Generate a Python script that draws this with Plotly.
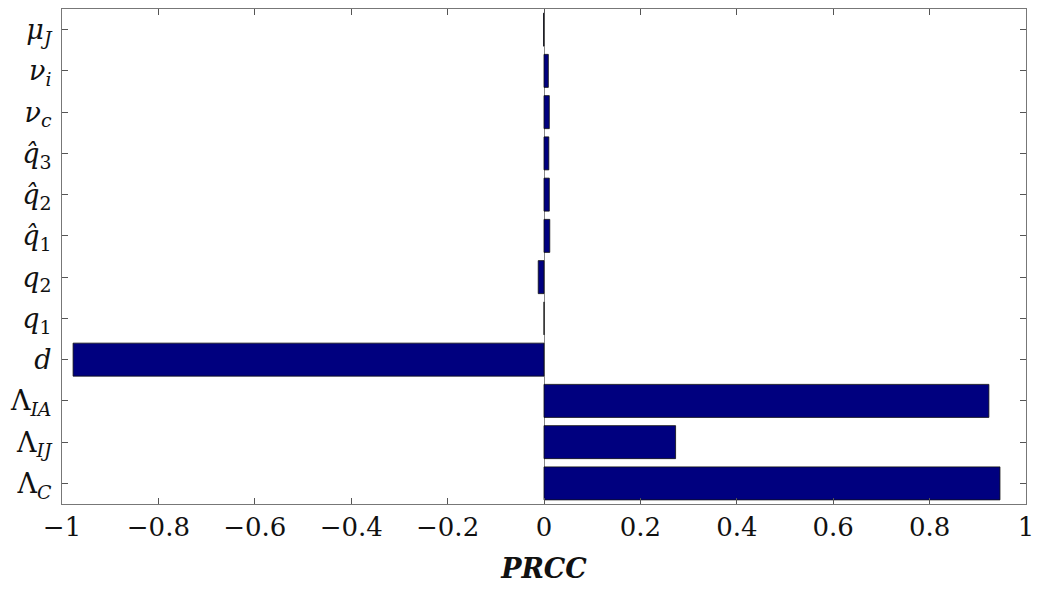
import plotly.graph_objects as go

# Parameter labels, bottom to top
params = [
    "Λ<sub><i>C</i></sub>",
    "Λ<sub><i>IJ</i></sub>",
    "Λ<sub><i>IA</i></sub>",
    "<i>d</i>",
    "<i>q</i><sub>1</sub>",
    "<i>q</i><sub>2</sub>",
    "<i>q̂</i><sub>1</sub>",
    "<i>q̂</i><sub>2</sub>",
    "<i>q̂</i><sub>3</sub>",
    "<i>ν</i><sub><i>c</i></sub>",
    "<i>ν</i><sub><i>i</i></sub>",
    "<i>μ</i><sub><i>J</i></sub>",
]
prcc = [0.946, 0.273, 0.923, -0.977, 0.0, -0.012, 0.012, 0.011, 0.010, 0.011, 0.009, -0.001]

x_ticks = [-1, -0.8, -0.6, -0.4, -0.2, 0, 0.2, 0.4, 0.6, 0.8, 1]
x_tick_text = ["−1", "−0.8", "−0.6", "−0.4", "−0.2", "0", "0.2", "0.4", "0.6", "0.8", "1"]

positions = list(range(len(params)))

fig = go.Figure(
    go.Bar(
        x=prcc,
        y=positions,
        orientation="h",
        width=0.8,
        marker=dict(color="#00007F", line=dict(color="#101010", width=0.8)),
    )
)

fig.update_layout(
    width=1042,
    height=590,
    margin=dict(l=62, r=12, t=8, b=86),
    plot_bgcolor="white",
    paper_bgcolor="white",
    showlegend=False,
    font=dict(family="DejaVu Serif, Liberation Serif, serif", color="#111111"),
)

fig.update_xaxes(
    range=[-1, 1],
    tickvals=x_ticks,
    ticktext=x_tick_text,
    tickfont=dict(size=26, family="DejaVu Serif, serif"),
    ticks="inside",
    ticklen=6,
    tickcolor="#555555",
    showline=True,
    linecolor="#777777",
    linewidth=1.2,
    mirror="ticks",
    showgrid=False,
    zeroline=True,
    zerolinecolor="#888888",
    zerolinewidth=1.2,
    title=dict(
        text="<b><i>PRCC</i></b>",
        font=dict(size=27, family="DejaVu Serif, serif"),
        standoff=17,
    ),
)

fig.update_yaxes(
    range=[-0.5, len(params) - 0.5],
    tickvals=positions,
    ticktext=params,
    tickfont=dict(size=27, family="DejaVu Serif, serif"),
    ticklabelstandoff=4,
    ticks="inside",
    ticklen=6,
    tickcolor="#555555",
    showline=True,
    linecolor="#777777",
    linewidth=1.2,
    mirror="ticks",
    showgrid=False,
    zeroline=False,
)

fig.write_html("out.html")
